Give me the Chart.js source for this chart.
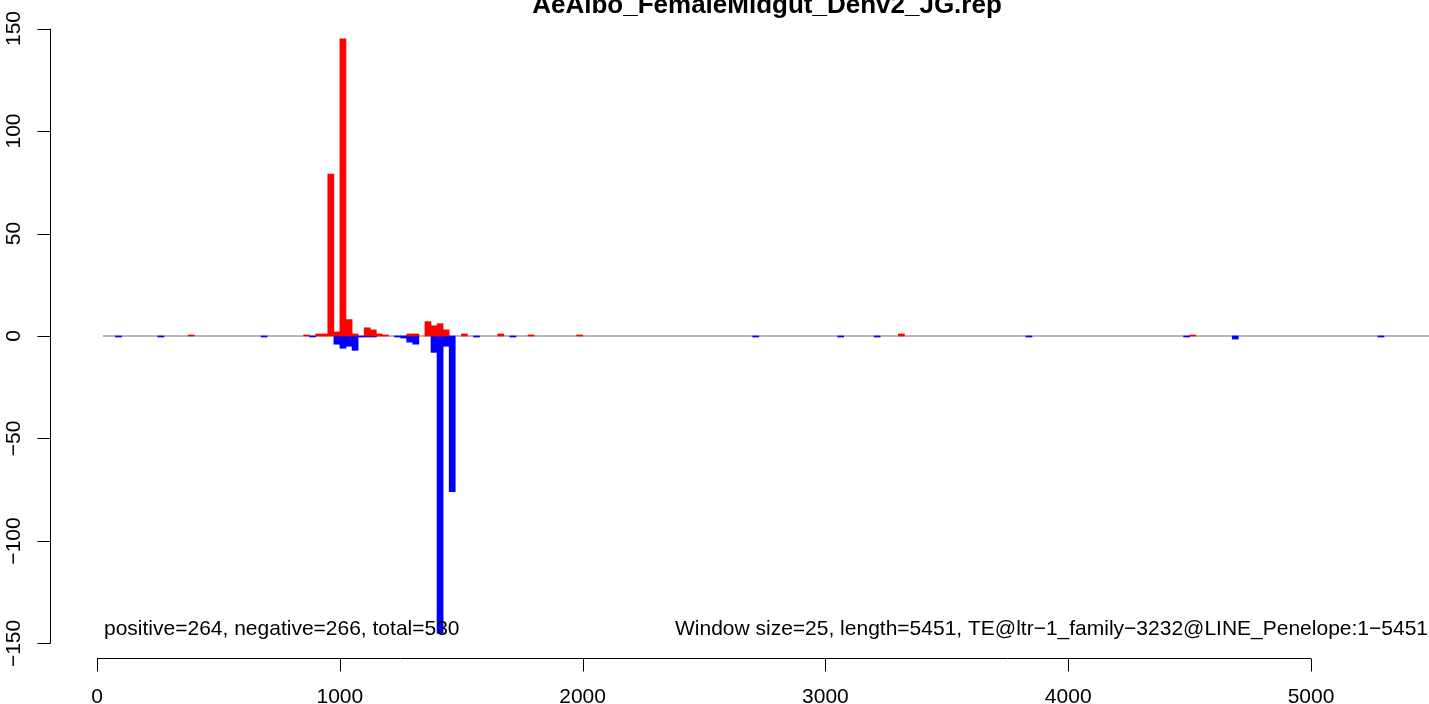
<!DOCTYPE html>
<html>
<head>
<meta charset="utf-8">
<title>AeAlbo_FemaleMidgut_Denv2_JG.rep</title>
<script src="https://cdn.jsdelivr.net/npm/chart.js@4.4.0/dist/chart.umd.min.js"></script>
<style>
  html, body { margin: 0; padding: 0; background: #ffffff; }
  canvas { display: block; }
</style>
</head>
<body>
<canvas id="grafico" width="1429" height="704"></canvas>
<script>
// Janelas de 25 pb: posição inicial de cada janela e contagem
const tamanhoJanela = 25;

const inicioPositivos = [376, 851, 901, 926, 951, 976, 1001, 1026, 1051, 1101, 1126, 1151, 1176, 1276, 1301,
    1351, 1376, 1401, 1426, 1501, 1651, 1776, 1976, 3301, 4501];
const valoresPositivos = [0.5, 0.5, 1, 1, 79, 2, 145, 8, 1, 4, 3, 1, 0.5, 1, 1,
    7, 5, 6, 3, 1, 1, 0.5, 0.5, 1, 0.5];

const inicioNegativos = [76, 251, 676, 876, 976, 1001, 1026, 1051, 1076, 1101, 1126, 1226, 1251, 1276, 1301,
    1376, 1401, 1426, 1451, 1551, 1701, 2701, 3051, 3201, 3826, 4476, 4676, 5276];
const valoresNegativos = [-0.5, -0.5, -0.5, -0.5, -4, -6, -5, -7, -0.5, -0.5, -0.5, -0.5, -1, -3, -4,
    -8, -145, -5, -76, -0.5, -0.5, -0.5, -0.5, -0.5, -0.5, -0.5, -1.5, -0.5];

const ticksX = [0, 1000, 2000, 3000, 4000, 5000];
const ticksY = [-150, -100, -50, 0, 50, 100, 150];

const titulo = "AeAlbo_FemaleMidgut_Denv2_JG.rep";
const textoContagem = "positive=264, negative=266, total=530";
const textoJanela = "Window size=25, length=5451, TE@ltr\u22121_family\u22123232@LINE_Penelope:1\u22125451";
const inicioLinhaZero = 25;

const fonte = "'Liberation Sans', Arial, Helvetica, sans-serif";

// monta os pontos {x, y} com x no centro da janela
function pontos(inicios, valores) {
    return inicios.map((ini, i) => ({ x: ini + (tamanhoJanela - 1) / 2, y: valores[i] }));
}

function rotulo(v) {
    return String(v).replace("-", "\u2212");
}

// eixos no estilo do R (desenhados com as escalas do Chart.js)
const eixosR = {
    id: "eixosR",
    beforeDraw(chart) {
        const ctx = chart.ctx;
        ctx.save();
        ctx.fillStyle = "#ffffff";
        ctx.fillRect(0, 0, chart.width, chart.height);
        ctx.restore();
    },
    beforeDatasetsDraw(chart) {
        // linha do zero
        const { ctx, chartArea } = chart;
        const x = chart.scales.x;
        const y = chart.scales.y;
        const y0 = y.getPixelForValue(0);
        ctx.save();
        ctx.strokeStyle = "#a0a0a0";
        ctx.lineWidth = 1.5;
        ctx.beginPath();
        ctx.moveTo(x.getPixelForValue(inicioLinhaZero), y0);
        ctx.lineTo(chartArea.right, y0);
        ctx.stroke();
        ctx.restore();
    },
    afterDraw(chart) {
        const { ctx, chartArea } = chart;
        const x = chart.scales.x;
        const y = chart.scales.y;
        ctx.save();
        ctx.strokeStyle = "#000000";
        ctx.fillStyle = "#000000";
        ctx.lineWidth = 1;

        // eixo y
        const ex = Math.round(chartArea.left) + 0.5;
        ctx.beginPath();
        ctx.moveTo(ex, y.getPixelForValue(ticksY[0]));
        ctx.lineTo(ex, y.getPixelForValue(ticksY[ticksY.length - 1]));
        ticksY.forEach(v => {
            const py = Math.round(y.getPixelForValue(v)) + 0.5;
            ctx.moveTo(ex, py);
            ctx.lineTo(ex - 13, py);
        });
        ctx.stroke();

        ctx.font = "21px " + fonte;
        ctx.textAlign = "center";
        ctx.textBaseline = "alphabetic";
        ticksY.forEach(v => {
            ctx.save();
            ctx.translate(20, y.getPixelForValue(v));
            ctx.rotate(-Math.PI / 2);
            ctx.fillText(rotulo(v), 0, 0);
            ctx.restore();
        });

        // eixo x
        const ey = Math.round(chartArea.bottom) + 1.5;
        ctx.beginPath();
        ctx.moveTo(x.getPixelForValue(ticksX[0]), ey);
        ctx.lineTo(x.getPixelForValue(ticksX[ticksX.length - 1]), ey);
        ticksX.forEach(v => {
            const px = Math.round(x.getPixelForValue(v)) + 0.5;
            ctx.moveTo(px, ey);
            ctx.lineTo(px, ey + 13);
        });
        ctx.stroke();
        ticksX.forEach(v => {
            ctx.fillText(rotulo(v), x.getPixelForValue(v), 703);
        });

        // textos de rodapé
        ctx.textAlign = "left";
        ctx.fillText(textoContagem, 104, 635);
        ctx.textAlign = "right";
        ctx.fillText(textoJanela, 1428, 635);

        // título (cortado no topo como no original)
        ctx.font = "bold 26px " + fonte;
        ctx.textAlign = "center";
        ctx.fillText(titulo, 767, 13);
        ctx.restore();
    }
};

const ctx = document.getElementById("grafico").getContext("2d");

const grafico = new Chart(ctx, {
    type: "bar",
    data: {
        datasets: [{
            label: "positivo",
            data: pontos(inicioPositivos, valoresPositivos),
            backgroundColor: "#ff0000",
            borderWidth: 0,
            grouped: false,
            barPercentage: 1,
            categoryPercentage: 1
        }, {
            label: "negativo",
            data: pontos(inicioNegativos, valoresNegativos),
            backgroundColor: "#0000ff",
            borderWidth: 0,
            grouped: false,
            barPercentage: 1,
            categoryPercentage: 1
        }]
    },
    options: {
        responsive: false,
        devicePixelRatio: 1,
        animation: false,
        layout: {
            padding: { left: 50, right: 0, top: 15, bottom: 47 }
        },
        plugins: {
            legend: { display: false },
            tooltip: { enabled: false },
            title: { display: false }
        },
        scales: {
            x: {
                type: "linear",
                offset: false,
                min: -193.6,
                max: 5486,
                display: false
            },
            y: {
                min: -156.6,
                max: 156.6,
                display: false
            }
        }
    },
    plugins: [eixosR]
});
</script>
</body>
</html>
